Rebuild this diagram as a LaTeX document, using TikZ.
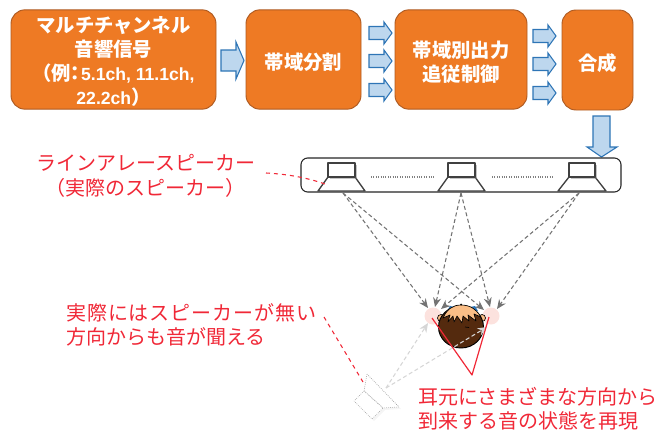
\documentclass[tikz,border=0pt]{standalone}
\usepackage{fontspec}
\setmainfont{Noto Sans CJK JP}
\newfontfamily\latinfont{Liberation Sans}
\newcommand{\latintext}[1]{{\latinfont\bfseries\fontsize{13.2}{18}\selectfont #1}}
\usetikzlibrary{arrows.meta,shadows}
\definecolor{boxorange}{RGB}{238,122,36}
\definecolor{boxedge}{RGB}{174,90,33}
\definecolor{arrowblue}{RGB}{189,215,238}
\definecolor{arrowedge}{RGB}{46,117,182}
\definecolor{notered}{RGB}{240,40,55}
\definecolor{hairbrown}{RGB}{84,42,14}
\definecolor{skin}{RGB}{250,190,135}
\definecolor{earpink}{RGB}{252,226,222}
\tikzset{
	procbox/.style={draw=boxedge,fill=boxorange,rounded corners=10.5pt,line width=.7pt,text=white,align=center,inner sep=0pt,font=\fontsize{14.5}{18}\selectfont\bfseries},
	arrowbody/.style={draw=arrowedge,fill=arrowblue,line width=.8pt,line join=miter},
	blockarrow/.pic={\draw[arrowbody] (-11.5,-6.5)--(3.5,-6.5)--(3.5,-11)--(11.5,0)--(3.5,11)--(3.5,6.5)--(-11.5,6.5)--cycle;},
	note/.style={text=notered,align=center,inner sep=0pt,font=\fontsize{15}{18.6}\selectfont},
	notedash/.style={notered,dashed,line width=.8pt},
	speaker/.style={draw=black!75,fill=white,line width=1pt,line join=round,drop shadow={shadow xshift=1.2pt,shadow yshift=-1.2pt,opacity=.45}},
	wave/.style={-{Stealth[length=7pt,width=6pt]},draw=black!55,densely dashed,line width=.8pt},
	ghostwave/.style={-{Stealth[length=7pt,width=6pt]},draw=black!16,densely dashed,line width=.8pt},
	ghost/.style={draw=black!40,densely dotted,line width=.5pt,fill=white,line join=round,drop shadow={shadow xshift=1.5pt,shadow yshift=-1.5pt,opacity=.08}}
}
\begin{document}
\begin{tikzpicture}[x=.75pt,y=-.75pt,line join=round]
	\useasboundingbox (0,0) rectangle (659,432);
	% processing chain
	\node[procbox,minimum width=153.75pt,minimum height=74.5pt] (multi) at (113.5,59.5) {\rule{0pt}{15pt}マルチチャンネル\\音響信号\\（例\kern-4pt：\kern-3pt\latintext{5.1ch, 11.1ch,}\\\latintext{22.2ch}）};
	\node[procbox,minimum width=86.25pt,minimum height=74.5pt] (split) at (303.5,59.5) {\rule{0pt}{17pt}帯域分割};
	\node[procbox,minimum width=99pt,minimum height=74.5pt] (track) at (461,59.5) {\rule{0pt}{17pt}帯域別出力\\追従制御};
	\node[procbox,minimum width=53.25pt,minimum height=75pt] (merge) at (597.5,60) {\rule{0pt}{17pt}合成};
	\draw[arrowbody] (221,50)--(236,50)--(236,42)--(244,60.5)--(236,79)--(236,71)--(221,71)--cycle;
	\pic (b1) at (380.5,33) {blockarrow};
	\pic (b2) at (380.5,61) {blockarrow};
	\pic (b3) at (380.5,90) {blockarrow};
	\pic (c1) at (544.5,36) {blockarrow};
	\pic (c2) at (544.5,64) {blockarrow};
	\pic (c3) at (544.5,93) {blockarrow};
	\draw[arrowbody] (593,116)--(610,116)--(610,147)--(617,147)--(601.5,157)--(587,147)--(593,147)--cycle;
	% line array
	\node[draw=black!85,fill=white,rounded corners=5pt,line width=.8pt,minimum width=240pt,minimum height=25.5pt,inner sep=0pt] (array) at (461,175) {};
	\draw[speaker] (318,191)--(328,177)--(355,177)--(365,191)--cycle;
	\draw[speaker] (328,163)--(355,163)--(355,177)--(328,177)--cycle;
	\draw[speaker] (438,191)--(448,177)--(475,177)--(485,191)--cycle;
	\draw[speaker] (448,163)--(475,163)--(475,177)--(448,177)--cycle;
	\draw[speaker] (558,191)--(569,177)--(595,177)--(606,191)--cycle;
	\draw[speaker] (569,163)--(595,163)--(595,177)--(569,177)--cycle;
	\draw[black!50,densely dotted,line width=.8pt] (371,177)--(434,177) (492,177)--(554,177);
	% ears
	\fill[earpink] (433,316) circle (8.5) (491,316) circle (8.5);
	\coordinate (s1) at (343,193);
	\coordinate (s2) at (461,193);
	\coordinate (s3) at (579,193);
	\coordinate (l1) at (428,308);
	\coordinate (l2) at (435,307);
	\coordinate (l3) at (441,309);
	\coordinate (r1) at (484,310);
	\coordinate (r2) at (490,307);
	\coordinate (r3) at (497,309);
	\draw[wave] (s1)--(l1);
	\draw[wave] (s1)--(r1);
	\draw[wave] (s2)--(l2);
	\draw[wave] (s2)--(r2);
	\draw[wave] (s3)--(l3);
	\draw[wave] (s3)--(r3);
	% listener
	\fill[arrowedge] (447,311)--(450,306)--(455,307)--(452,312)--cycle (470,307)--(475,306)--(478,311)--(473,312)--cycle;
	\draw[black,fill=skin,line width=.5pt] (441,318) circle (3.5) (482,318) circle (3.5);
	\draw[black,fill=hairbrown,line width=.7pt] (461,327) ellipse (22.5 and 21);
	\draw[black,fill=skin,line width=.5pt] (443,318) .. controls (447,309) and (453,305) .. (461,305) .. controls (470,305) and (476,309) .. (481,317)
		--(474,314)--(476,321)--(468,315)--(469,321)--(463,316)--(462,323)--(457,316)--(454,322)--(453,316)--(448,322)--(450,315)--cycle;
	\fill[black] (461,304.5) circle (1);
	\draw[black,line width=.5pt] (465,327)--(469,327.5);
	% virtual source
	\coordinate (v) at (386,388);
	\coordinate (vl) at (428,323);
	\coordinate (vr) at (487,327);
	\draw[ghostwave] (v)--(vl);
	\draw[ghostwave] (v)--(vr);
	\draw[ghost] (367,374)--(399,407)--(383,408)--(364,391)--cycle;
	\draw[ghost] (364,391)--(383,408)--(372,419)--(354,401)--cycle;
	% labels
	\coordinate (e1) at (432,318);
	\coordinate (e2) at (489,317);
	\coordinate (e3) at (472,375);
	\draw[notered,line width=.9pt] (e1)--(e3)--(e2);
	\node[note] (linearray) at (145.5,175.5) {ラインアレースピーカー\\（実際のスピーカー）};
	\node[note] (nosource) [anchor=west] at (66,327.5) {\begin{tabular}{@{}l@{}}{\addfontfeature{LetterSpace=4.5}実際にはスピーカーが無い}\\方向からも音が聞える\end{tabular}};
	\node[note] (atear) [anchor=west] at (418,411.5) {\begin{tabular}{@{}l@{}}耳元にさまざまな方向から\\到来する音の状態を再現\end{tabular}};
	\coordinate (p1) at (266,173);
	\coordinate (p2) at (325,184);
	\coordinate (p3) at (324,317);
	\coordinate (p4) at (363,382);
	\draw[notedash] (p1) .. controls (285,174) and (305,177) .. (p2);
	\draw[notedash] (p3)--(p4);
\end{tikzpicture}
\end{document}
